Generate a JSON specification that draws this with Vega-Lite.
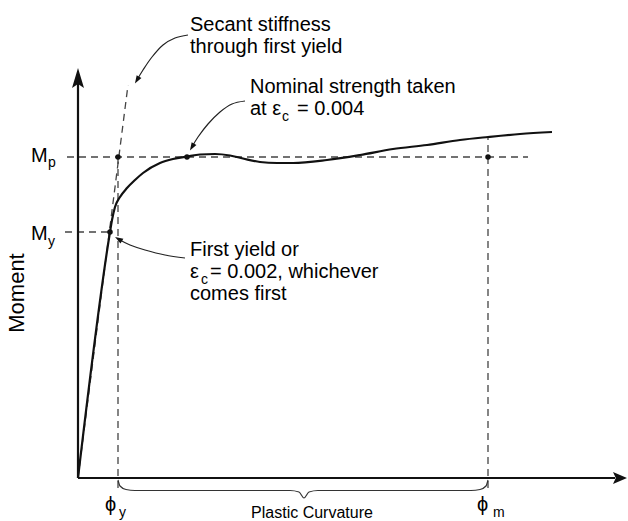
{
  "$schema": "https://vega.github.io/schema/vega-lite/v6.json",
  "width": 628,
  "height": 521,
  "autosize": {"type": "fit", "contains": "padding"},
  "padding": 0,
  "background": "white",
  "config": {"view": {"stroke": null}, "text": {"font": "Liberation Sans", "color": "#000"}},
  "datasets": {
    "curve": [
      {"x": 0, "y": 0}, {"x": 32, "y": 246}, {"x": 34, "y": 258}, {"x": 37, "y": 271}, {"x": 42, "y": 281},
      {"x": 49, "y": 290}, {"x": 57, "y": 298}, {"x": 65, "y": 305}, {"x": 82, "y": 315}, {"x": 95, "y": 319},
      {"x": 109, "y": 321.5}, {"x": 122, "y": 323.5}, {"x": 137, "y": 324}, {"x": 152, "y": 322.5}, {"x": 165, "y": 319.5},
      {"x": 182, "y": 316}, {"x": 199, "y": 315}, {"x": 215, "y": 315}, {"x": 249, "y": 318}, {"x": 282, "y": 323},
      {"x": 315, "y": 329}, {"x": 349, "y": 333}, {"x": 382, "y": 338}, {"x": 410, "y": 341}, {"x": 442, "y": 344},
      {"x": 474, "y": 346}
    ],
    "dashes": [
      {"id": "mp", "x": -11, "y": 321}, {"id": "mp", "x": 450, "y": 321},
      {"id": "my", "x": -13, "y": 246}, {"id": "my", "x": 32, "y": 246},
      {"id": "secant", "x": 0, "y": 0}, {"id": "secant", "x": 50, "y": 393},
      {"id": "phiy", "x": 40, "y": 321}, {"id": "phiy", "x": 40, "y": -10},
      {"id": "phim", "x": 410, "y": 341}, {"id": "phim", "x": 410, "y": -10}
    ],
    "dots": [
      {"x": 32, "y": 246}, {"x": 40, "y": 321}, {"x": 109, "y": 321}, {"x": 410, "y": 321}
    ],
    "axes": [
      {"id": "y", "x": 0, "y": 0}, {"id": "y", "x": 0, "y": 400},
      {"id": "x", "x": 0, "y": 0}, {"id": "x", "x": 537, "y": 0}
    ],
    "ptrs": [
      {"id": "secant", "i": 0, "x": 110, "y": 443}, {"id": "secant", "i": 1, "x": 97, "y": 440},
      {"id": "secant", "i": 2, "x": 85, "y": 433}, {"id": "secant", "i": 3, "x": 74, "y": 421},
      {"id": "secant", "i": 4, "x": 65, "y": 408}, {"id": "secant", "i": 5, "x": 59, "y": 398},
      {"id": "nominal", "i": 0, "x": 167, "y": 377}, {"id": "nominal", "i": 1, "x": 154, "y": 374},
      {"id": "nominal", "i": 2, "x": 142, "y": 366}, {"id": "nominal", "i": 3, "x": 130, "y": 354},
      {"id": "nominal", "i": 4, "x": 120, "y": 341}, {"id": "nominal", "i": 5, "x": 114, "y": 331},
      {"id": "first", "i": 0, "x": 107, "y": 220}, {"id": "first", "i": 1, "x": 87, "y": 223},
      {"id": "first", "i": 2, "x": 67, "y": 228}, {"id": "first", "i": 3, "x": 52, "y": 233},
      {"id": "first", "i": 4, "x": 42, "y": 238}
    ],
    "brace": [
      {"x": 40, "y": -2}, {"x": 42, "y": -8}, {"x": 48, "y": -11.5}, {"x": 57, "y": -12.5},
      {"x": 212, "y": -12.5}, {"x": 221, "y": -14}, {"x": 226, "y": -20}, {"x": 231, "y": -14},
      {"x": 240, "y": -12.5}, {"x": 393, "y": -12.5}, {"x": 402, "y": -11.5}, {"x": 408, "y": -8},
      {"x": 410, "y": -2}
    ],
    "labels": [
      {"x": 112, "y": 447, "t": "Secant stiffness"},
      {"x": 112, "y": 425, "t": "through first yield"},
      {"x": 172, "y": 385, "t": "Nominal strength taken"},
      {"x": 172, "y": 363, "t": "at ε"},
      {"x": 219, "y": 363, "t": "= 0.004"},
      {"x": 112, "y": 222, "t": "First yield or"},
      {"x": 112, "y": 200, "t": "ε"},
      {"x": 132, "y": 200, "t": "= 0.002, whichever"},
      {"x": 112, "y": 178, "t": "comes first"},
      {"x": -47, "y": 316, "t": "M"},
      {"x": -47, "y": 238, "t": "M"},
      {"x": 27, "y": -33, "t": "ϕ"},
      {"x": 399, "y": -33, "t": "ϕ"}
    ],
    "subs": [
      {"x": 204, "y": 357, "t": "c"},
      {"x": 123, "y": 194, "t": "c"},
      {"x": -30, "y": 311, "t": "p"},
      {"x": -30, "y": 232, "t": "y"},
      {"x": 41, "y": -39, "t": "y"},
      {"x": 415, "y": -39, "t": "m"}
    ]
  },
  "encoding": {
    "x": {"field": "x", "type": "quantitative", "scale": {"domain": [-78, 550], "nice": false, "zero": false}, "axis": null},
    "y": {"field": "y", "type": "quantitative", "scale": {"domain": [-43, 478], "nice": false, "zero": false}, "axis": null}
  },
  "layer": [
    {
      "data": {"name": "dashes"},
      "mark": {"type": "line", "stroke": "#444", "strokeWidth": 1.3, "strokeDash": [7, 5]},
      "encoding": {"detail": {"field": "id"}, "order": {"field": "y", "type": "quantitative"}}
    },
    {
      "data": {"name": "axes"},
      "mark": {"type": "line", "stroke": "#111", "strokeWidth": 2.2},
      "encoding": {"detail": {"field": "id"}}
    },
    {
      "data": {"values": [{"x": 0, "y": 400}]},
      "mark": {"type": "point", "shape": "M0,-1L0.6,1L0,0.6L-0.6,1Z", "size": 400, "filled": true, "fill": "#111", "opacity": 1, "strokeWidth": 0}
    },
    {
      "data": {"values": [{"x": 542, "y": 0}]},
      "mark": {"type": "point", "shape": "M1,0L-1,0.85L-0.6,0L-1,-0.85Z", "size": 196, "filled": true, "fill": "#111", "opacity": 1, "strokeWidth": 0}
    },
    {
      "data": {"name": "curve"},
      "mark": {"type": "line", "stroke": "#111", "strokeWidth": 2.2, "interpolate": "monotone"}
    },
    {
      "data": {"name": "dots"},
      "mark": {"type": "point", "shape": "circle", "size": 30, "filled": true, "fill": "#111", "opacity": 1, "strokeWidth": 0}
    },
    {
      "data": {"name": "ptrs"},
      "mark": {"type": "line", "stroke": "#222", "strokeWidth": 1.2, "interpolate": "cardinal"},
      "encoding": {"detail": {"field": "id"}, "order": {"field": "i", "type": "quantitative"}}
    },
    {
      "data": {"values": [{"x": 59, "y": 398}]},
      "mark": {"type": "point", "shape": "M0,-1L0.7,1L-0.7,1Z", "size": 64, "angle": 211, "filled": true, "fill": "#111", "opacity": 1, "strokeWidth": 0}
    },
    {
      "data": {"values": [{"x": 114, "y": 331}]},
      "mark": {"type": "point", "shape": "M0,-1L0.7,1L-0.7,1Z", "size": 64, "angle": 211, "filled": true, "fill": "#111", "opacity": 1, "strokeWidth": 0}
    },
    {
      "data": {"values": [{"x": 40.5, "y": 239}]},
      "mark": {"type": "point", "shape": "M0,-1L0.7,1L-0.7,1Z", "size": 64, "angle": 301, "filled": true, "fill": "#111", "opacity": 1, "strokeWidth": 0}
    },
    {
      "data": {"name": "brace"},
      "mark": {"type": "line", "stroke": "#333", "strokeWidth": 1.2, "interpolate": "monotone"}
    },
    {
      "data": {"name": "labels"},
      "mark": {"type": "text", "fontSize": 20, "align": "left", "baseline": "alphabetic"},
      "encoding": {"text": {"field": "t"}}
    },
    {
      "data": {"name": "subs"},
      "mark": {"type": "text", "fontSize": 14, "align": "left", "baseline": "alphabetic"},
      "encoding": {"text": {"field": "t"}}
    },
    {
      "data": {"values": [{"x": 234, "y": -40, "t": "Plastic Curvature"}]},
      "mark": {"type": "text", "fontSize": 16, "align": "center", "baseline": "alphabetic"},
      "encoding": {"text": {"field": "t"}}
    },
    {
      "data": {"values": [{"x": -61, "y": 185, "t": "Moment"}]},
      "mark": {"type": "text", "fontSize": 22, "align": "center", "baseline": "middle", "angle": 270},
      "encoding": {"text": {"field": "t"}}
    }
  ]
}
